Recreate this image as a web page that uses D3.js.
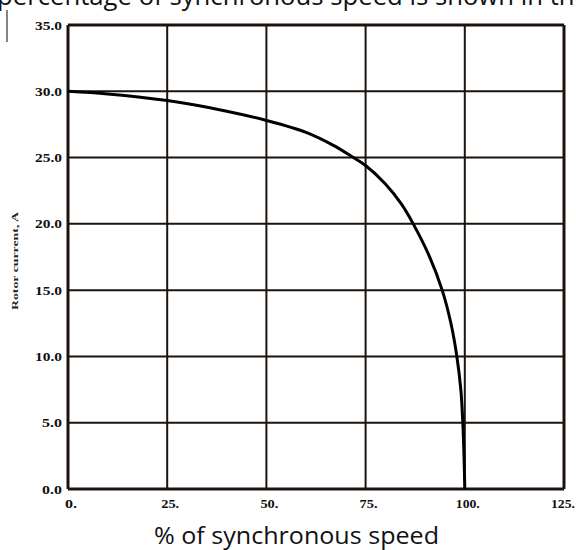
<!DOCTYPE html>
<html>
<head>
<meta charset="utf-8">
<script src="https://cdn.jsdelivr.net/npm/d3@7"></script>
<style>
  html, body { margin: 0; padding: 0; background: #fff; overflow: hidden; }
  svg { display: block; }
</style>
</head>
<body>
<script>
// ---- data ----
const speedPct = [0, 10, 25, 40, 50, 60, 67, 71.4, 75, 80, 84, 87, 91, 94.3, 96.5, 98.0, 99.0, 99.5, 99.8, 100];
const rotorCurrent = [30.0, 29.8, 29.3, 28.5, 27.8, 26.9, 25.9, 25.1, 24.4, 23.0, 21.5, 20.0, 17.6, 15.0, 12.5, 10.0, 7.5, 5.0, 2.5, 0];
const xTicks = [0, 25, 50, 75, 100, 125];
const xTickLabels = ["0.", "25.", "50.", "75.", "100.", "125."];
const yTicks = [0, 5, 10, 15, 20, 25, 30, 35];
const yTickLabels = ["0.0", "5.0", "10.0", "15.0", "20.0", "25.0", "30.0", "35.0"];
const yTitle = "Rotor current, A";
const xTitle = "% of synchronous speed";
const topText = "percentage of synchronous speed is shown in the";

const W = 576, H = 550;
const svg = d3.select("body").append("svg").attr("width", W).attr("height", H);

const x = d3.scaleLinear().domain([0, 125]).range([68, 564]);
const y = d3.scaleLinear().domain([0, 35]).range([489, 25]);
const ink = "#1c130c";

// cut-off text line at top (cropped in the reference too)
svg.append("text")
  .attr("x", -3).attr("y", 5)
  .attr("font-family", "Open Sans, Noto Sans, sans-serif")
  .attr("font-size", 26)
  .attr("fill", "#111")
  .attr("textLength", 592).attr("lengthAdjust", "spacingAndGlyphs")
  .text(topText);

// scan artifact line at left
svg.append("line").attr("x1", 7).attr("x2", 7).attr("y1", 10).attr("y2", 42)
  .attr("stroke", "#333").attr("stroke-width", 1.2);

// grid
const g = svg.append("g");
g.selectAll("line.v").data(xTicks).join("line")
  .attr("x1", d => x(d)).attr("x2", d => x(d))
  .attr("y1", y(35)).attr("y2", y(0))
  .attr("stroke", ink)
  .attr("stroke-width", (d, i) => (i === 0 || i === xTicks.length - 1) ? 3 : 2);
g.selectAll("line.h").data(yTicks).join("line")
  .attr("x1", x(0)).attr("x2", x(125))
  .attr("y1", d => y(d)).attr("y2", d => y(d))
  .attr("stroke", ink)
  .attr("stroke-width", (d, i) => (i === 0 || i === yTicks.length - 1) ? 3 : 2);

// y tick labels
svg.selectAll("text.yl").data(yTicks).join("text")
  .attr("x", 62).attr("y", d => y(d)).attr("dy", "0.35em")
  .attr("text-anchor", "end")
  .attr("font-family", "Liberation Serif, serif")
  .attr("font-weight", "bold").attr("font-size", 13)
  .attr("fill", "#111")
  .attr("textLength", (d, i) => yTickLabels[i].length * 7 - 1)
  .attr("lengthAdjust", "spacingAndGlyphs")
  .text((d, i) => yTickLabels[i]);

// x tick labels
svg.selectAll("text.xl").data(xTicks).join("text")
  .attr("x", (d, i) => i === xTicks.length - 1 ? x(d) - 1 : x(d) + 3).attr("y", 508)
  .attr("text-anchor", "middle")
  .attr("font-family", "Liberation Serif, serif")
  .attr("font-weight", "bold").attr("font-size", 12)
  .attr("fill", "#111")
  .attr("textLength", (d, i) => xTickLabels[i].length * 6)
  .attr("lengthAdjust", "spacingAndGlyphs")
  .text((d, i) => xTickLabels[i]);

// y title
svg.append("text")
  .attr("transform", "translate(18,261) rotate(-90)")
  .attr("text-anchor", "middle")
  .attr("font-family", "Liberation Serif, serif")
  .attr("font-weight", "bold").attr("font-size", 9)
  .attr("fill", "#222")
  .attr("textLength", 98).attr("lengthAdjust", "spacingAndGlyphs")
  .text(yTitle);

// x title
svg.append("text")
  .attr("x", 154).attr("y", 544)
  .attr("font-family", "Open Sans, Noto Sans, sans-serif")
  .attr("font-size", 24)
  .attr("fill", "#111")
  .attr("textLength", 285).attr("lengthAdjust", "spacingAndGlyphs")
  .text(xTitle);

// curve
const pts = speedPct.map((s, i) => [s, rotorCurrent[i]]);
svg.append("path")
  .datum(pts)
  .attr("fill", "none")
  .attr("stroke", "#000")
  .attr("stroke-width", 3)
  .attr("d", d3.line().x(d => x(d[0])).y(d => y(d[1])).curve(d3.curveCatmullRom.alpha(0.5)));
</script>
</body>
</html>
